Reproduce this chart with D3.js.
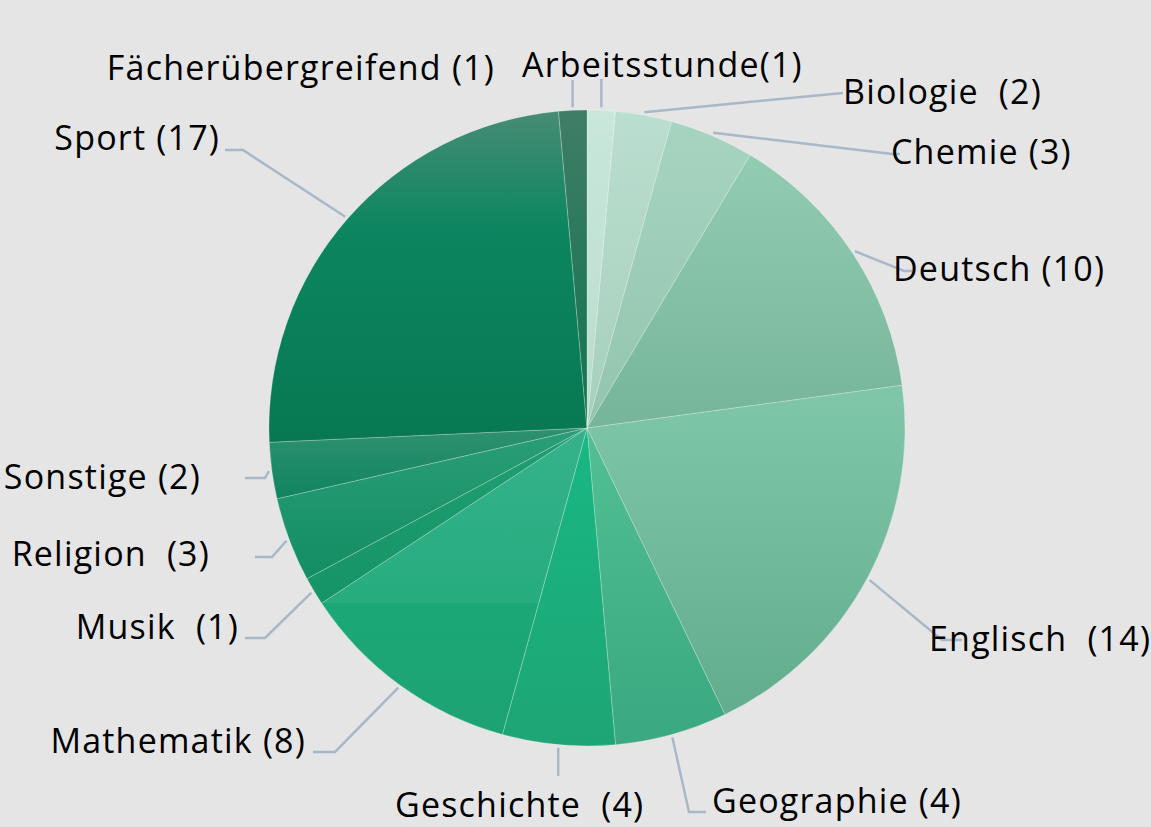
<!DOCTYPE html>
<html>
<head>
<meta charset="utf-8">
<script src="https://cdn.jsdelivr.net/npm/d3@7"></script>
<style>
body{margin:0;background:#e5e5e5;}
svg{display:block;}
</style>
</head>
<body>
<script>
var subjects = ["Arbeitsstunde","Biologie","Chemie","Deutsch","Englisch","Geographie","Geschichte","Mathematik","Musik","Religion","Sonstige","Sport","Fächerübergreifend"];
var counts = [1,2,3,10,14,4,4,8,1,3,2,17,1];
var labels = ["Arbeitsstunde(1)","Biologie  (2)","Chemie (3)","Deutsch (10)","Englisch  (14)","Geographie (4)","Geschichte  (4)","Mathematik (8)","Musik  (1)","Religion  (3)","Sonstige (2)","Sport (17)","Fächerübergreifend (1)"];

var width = 1151;
var height = 827;
var cx = 587, cy = 428, radius = 318;

// gradient stops per slice, light top -> darker bottom
var colors = [
	[["0","#c9e7db"],["1","#b8dccc"]],
	[["0","#badecf"],["1","#a6cfbd"]],
	[["0","#a6d4c0"],["1","#93c5ae"]],
	[["0","#92ccb2"],["1","#76b59a"]],
	[["0","#80c7a9"],["1","#62ad8e"]],
	[["0","#52bf94"],["1","#3aa880"]],
	[["0","#18b884"],["1","#1ea575"]],
	[["0","#36b28b"],["0.57","#26ac7f"],["0.57","#1ba877"],["1","#1da274"]],
	[["0","#1f9f72"],["1","#169467"]],
	[["0","#2a9e77"],["1","#138d63"]],
	[["0","#2f9170"],["1","#10845f"]],
	[["0","#478c75"],["0.35","#0c8660"],["1","#077852"]],
	[["0","#407d67"],["1","#0f7450"]]
];

// label placement (text baseline + connector end)
var layout = [
	{tx:522, ty:77, anchor:"start", ex:null, ey:79, stub:0},
	{tx:843, ty:104, anchor:"start", ex:843, ey:93, stub:0},
	{tx:891, ty:164, anchor:"start", ex:900, ey:154, stub:8},
	{tx:893, ty:281, anchor:"start", ex:912, ey:271, stub:8},
	{tx:929, ty:651, anchor:"start", ex:962, ey:640, stub:20},
	{tx:712, ty:813, anchor:"start", ex:706, ey:812, stub:17},
	{tx:395, ty:817, anchor:"start", ex:null, ey:776, stub:0},
	{tx:306, ty:753, anchor:"end", ex:313, ey:752, stub:22},
	{tx:239, ty:639, anchor:"end", ex:245, ey:638, stub:20},
	{tx:210, ty:566, anchor:"end", ex:255, ey:557, stub:17},
	{tx:201, ty:489, anchor:"end", ex:245, ey:478, stub:20},
	{tx:220, ty:150, anchor:"end", ex:225, ey:150, stub:18},
	{tx:495, ty:80, anchor:"end", ex:null, ey:80, stub:0}
];

var svg = d3.select("body")
.append("svg")
.attr("width",width)
.attr("height",height);

svg.append("rect")
.attr("width",width)
.attr("height",height)
.attr("fill","#e5e5e5");

var defs = svg.append("defs");
colors.forEach(function(stops,i){
	var g = defs.append("linearGradient")
	.attr("id","grad" + i)
	.attr("x1",0).attr("y1",0).attr("x2",0).attr("y2",1);
	stops.forEach(function(s){
		g.append("stop").attr("offset",s[0]).attr("stop-color",s[1]);
	});
});

var pie = d3.pie().sort(null).value(function(d){ return d; });
var arcs = pie(counts);

var arc = d3.arc().innerRadius(0).outerRadius(radius);
var outer = d3.arc().innerRadius(radius + 3).outerRadius(radius + 3);

var g = svg.append("g")
.attr("transform","translate(" + cx + "," + cy + ")");

g.selectAll(".slice")
.data(arcs)
.enter()
.append("path")
.attr("class","slice")
.attr("d",arc)
.attr("fill",function(d,i){ return "url(#grad" + i + ")"; })
.attr("stroke","rgba(255,255,255,0.3)")
.attr("stroke-width",0.8)
.attr("stroke-linejoin","round");

// connectors
svg.selectAll(".conn")
.data(arcs)
.enter()
.append("path")
.attr("class","conn")
.attr("fill","none")
.attr("stroke","#a8b8c8")
.attr("stroke-width",2.5)
.attr("d",function(d,i){
	var p = outer.centroid(d);
	var sx = cx + p[0], sy = cy + p[1];
	var L = layout[i];
	if (L.ex === null) {
		return "M" + sx + "," + sy + "L" + sx + "," + L.ey;
	}
	var dir = L.anchor === "start" ? 1 : -1;
	var bx = L.ex - dir * L.stub;
	return "M" + sx + "," + sy + "L" + bx + "," + L.ey + "L" + L.ex + "," + L.ey;
});

svg.selectAll(".lbl")
.data(arcs)
.enter()
.append("text")
.attr("class","lbl")
.attr("x",function(d,i){ return layout[i].tx; })
.attr("y",function(d,i){ return layout[i].ty; })
.attr("text-anchor",function(d,i){ return layout[i].anchor; })
.attr("font-family","'Open Sans', 'Noto Sans', sans-serif")
.attr("font-size","34px")
.attr("letter-spacing","1.2px")
.attr("fill","#000")
.style("white-space","pre")
.text(function(d,i){ return labels[i]; });
</script>
</body>
</html>
